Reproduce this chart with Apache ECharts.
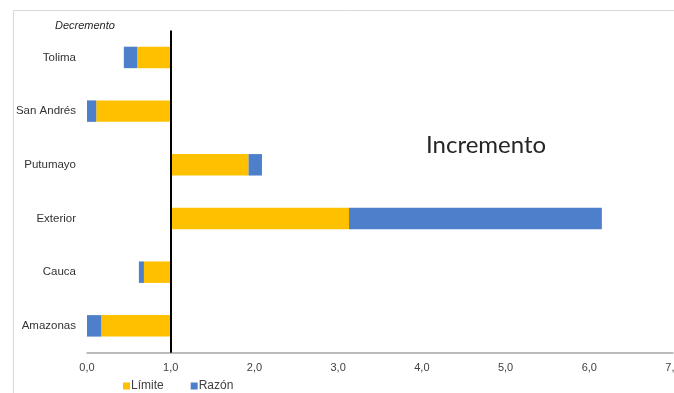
<!DOCTYPE html>
<html>
<head>
<meta charset="utf-8">
<script src="https://cdn.jsdelivr.net/npm/echarts@6/dist/echarts.min.js"></script>
<style>
  html, body { margin: 0; padding: 0; background: #fff; }
  #chart { width: 674px; height: 393px; }
</style>
</head>
<body>
<div id="chart"></div>
<script>
// Categories from bottom to top of the vertical axis
const categories = ['Amazonas', 'Cauca', 'Exterior', 'Putumayo', 'San Andrés', 'Tolima'];
// Threshold value (Límite) and ratio value (Razón) per category
const limite = [0.17, 0.68, 3.13, 1.93, 0.11, 0.60];
const razon  = [0.00, 0.62, 6.15, 2.09, 0.00, 0.44];
// Reference value where the vertical axis crosses
const baseline = 1.0;
const xTicks = ['0,0', '1,0', '2,0', '3,0', '4,0', '5,0', '6,0', '7,0'];

const yellow = '#FFC000';
const blue = '#4E7FCB';
const font = '"Liberation Sans", Arial, sans-serif';

// Segments: yellow spans baseline -> límite, blue spans límite -> razón
const yellowData = categories.map((c, i) => [i, baseline, limite[i]]);
const blueData = categories.map((c, i) => [i, limite[i], razon[i]]);

function rangeBar(params, api) {
  const cat = api.value(0);
  const p1 = api.coord([api.value(1), cat]);
  const p2 = api.coord([api.value(2), cat]);
  const h = api.size([0, 1])[1] * 0.4;
  const x = Math.min(p1[0], p2[0]);
  const w = Math.abs(p2[0] - p1[0]);
  return {
    type: 'rect',
    shape: { x: x, y: p1[1] - h / 2, width: w, height: h },
    style: api.style()
  };
}

const chart = echarts.init(document.getElementById('chart'));
chart.setOption({
  animation: false,
  backgroundColor: '#fff',
  graphic: [
    {
      type: 'rect',
      shape: { x: 13.5, y: 10.5, width: 700, height: 400 },
      style: { fill: 'none', stroke: '#D9D9D9', lineWidth: 1 },
      silent: true
    },
    {
      type: 'text',
      left: 55, top: 20,
      style: { text: 'Decremento', font: 'italic 11px ' + font, fill: '#262626' }
    },
    {
      type: 'text',
      left: 426, top: 133,
      style: { text: 'Incremento', font: '24px Lato, sans-serif', fill: '#262626' }
    }
  ],
  grid: { left: 87, right: 1, top: 30.6, bottom: 40.3, containLabel: false, outerBoundsMode: 'none' },
  legend: {
    left: 123, top: 380, padding: 0,
    itemWidth: 7, itemHeight: 7, itemGap: 27,
    icon: 'rect',
    textStyle: { fontFamily: font, fontSize: 12, color: '#404040', padding: [0, 0, 0, -4] },
    data: ['Límite', 'Razón']
  },
  xAxis: {
    type: 'value',
    min: 0, max: 7, interval: 1,
    axisLine: { show: true, lineStyle: { color: '#A6A6A6', width: 1.5 } },
    axisTick: { show: false },
    splitLine: { show: false },
    axisLabel: {
      fontFamily: font, fontSize: 11, color: '#404040', margin: 10,
      formatter: (v) => xTicks[Math.round(v)]
    }
  },
  yAxis: {
    type: 'category',
    data: categories,
    axisLine: { show: false },
    axisTick: { show: false },
    axisLabel: { fontFamily: font, fontSize: 11.5, color: '#333333', margin: 11 }
  },
  series: [
    {
      name: 'Límite',
      type: 'custom',
      renderItem: rangeBar,
      itemStyle: { color: yellow },
      encode: { x: [1, 2], y: 0 },
      data: yellowData,
      z: 2
    },
    {
      name: 'Razón',
      type: 'custom',
      renderItem: rangeBar,
      itemStyle: { color: blue },
      encode: { x: [1, 2], y: 0 },
      data: blueData,
      z: 2
    },
    {
      // Vertical axis drawn where it crosses at the baseline value
      name: 'eje',
      type: 'line',
      data: [],
      silent: true,
      z: 5,
      markLine: {
        symbol: 'none',
        silent: true,
        label: { show: false },
        lineStyle: { color: '#000', width: 2, type: 'solid' },
        data: [{ xAxis: baseline }]
      }
    }
  ]
});
</script>
</body>
</html>
